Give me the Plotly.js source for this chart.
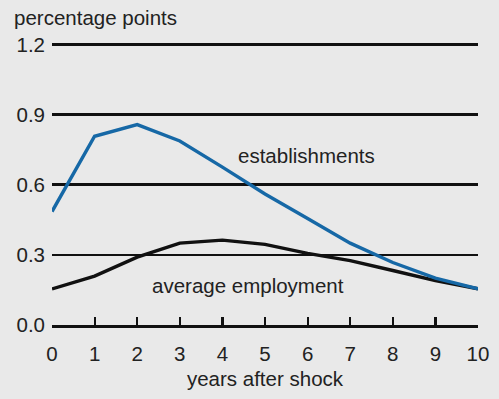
<!DOCTYPE html>
<html>
<head>
<meta charset="utf-8">
<script src="https://cdn.plot.ly/plotly-3.0.1.min.js"></script>
<style>html,body{margin:0;padding:0;background:#e9e9e9;}</style>
</head>
<body>
<div id="chart" style="width:499px;height:399px;"></div>
<script>
const years = [0,1,2,3,4,5,6,7,8,9,10];
const establishments = [0.485,0.807,0.857,0.787,0.675,0.56,0.455,0.35,0.267,0.2,0.155];
const averageEmployment = [0.154,0.209,0.29,0.35,0.363,0.345,0.306,0.275,0.233,0.19,0.155];
const yTicks = [0,0.3,0.6,0.9,1.2];
const yTickLabels = ["0.0","0.3","0.6","0.9","1.2"];
const xTicks = [0,1,2,3,4,5,6,7,8,9,10];

const font = {family:"Liberation Sans, Arial, sans-serif", size:20.5, color:"#222"};

const traces = [
  {x: years, y: averageEmployment, mode:"lines", line:{color:"#111", width:3.4}, hoverinfo:"skip"},
  {x: years, y: establishments, mode:"lines", line:{color:"#1668a6", width:3.4}, hoverinfo:"skip"}
];

const layout = {
  width:499, height:399,
  paper_bgcolor:"#e9e9e9", plot_bgcolor:"#e9e9e9",
  showlegend:false,
  font: font,
  margin:{l:52, r:21, t:42, b:74},
  xaxis:{
    range:[0,10], tickvals:xTicks, ticktext:xTicks.map(String),
    showgrid:false, zeroline:false,
    showline:true, linecolor:"#111", linewidth:2.6,
    ticks:"inside", ticklen:8, tickwidth:2.2, tickcolor:"#111",
    tickfont:font, ticklabelstandoff:9,
    title:{text:"years after shock", font:font, standoff:8}
  },
  yaxis:{
    range:[0,1.21], tickvals:yTicks, ticktext:yTickLabels,
    showgrid:true, gridcolor:"#111", gridwidth:2.6,
    zeroline:false, showline:false, ticks:"",
    tickfont:font, ticklabelstandoff:6
  },
  annotations:[
    {xref:"paper", yref:"paper", x:-0.095, y:1.085, xanchor:"left", yanchor:"middle",
     text:"percentage points", showarrow:false, font:font},
    {x:5.98, y:0.726, text:"establishments", showarrow:false, font:font},
    {x:4.61, y:0.171, text:"average employment", showarrow:false, font:font}
  ]
};

Plotly.newPlot("chart", traces, layout, {displayModeBar:false, staticPlot:true});
</script>
</body>
</html>
